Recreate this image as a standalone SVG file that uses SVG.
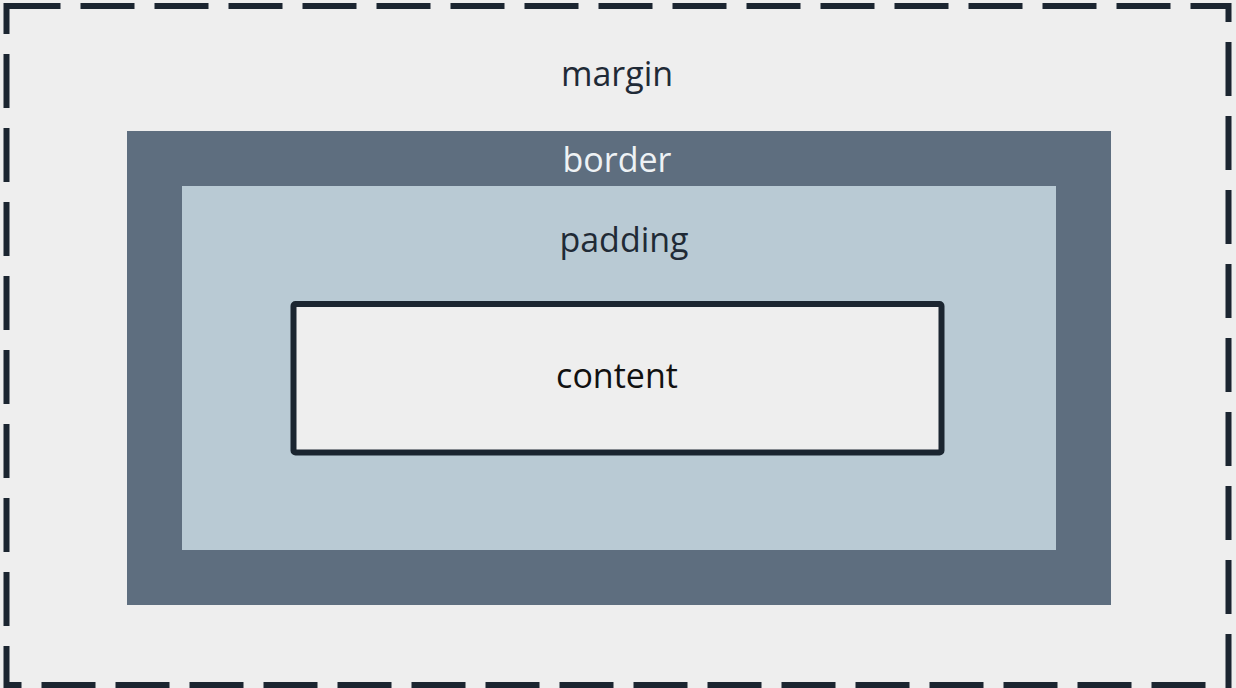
<svg xmlns="http://www.w3.org/2000/svg" width="1236" height="688" viewBox="0 0 1236 688">
  <style>
    .lbl { font-family: "Open Sans", "Noto Sans", sans-serif; font-size: 34px; text-anchor: middle; }
    .dark { fill: #1f2a36; }
    .light { fill: #eef2f5; }
  </style>
  <rect x="0" y="0" width="1236" height="688" fill="#eeeeee"/>
  <g id="margin">
    <rect x="6.5" y="6" width="1222" height="679" fill="#eeeeee" stroke="#1b2530" stroke-width="6" stroke-dasharray="54 20"/>
    <text class="lbl dark" x="617" y="86">margin</text>
  </g>
  <g id="border">
    <rect x="127" y="131" width="984" height="474" fill="#5e6e7f"/>
    <text class="lbl light" x="617" y="172">border</text>
  </g>
  <g id="padding">
    <rect x="182" y="186" width="874" height="364" fill="#b9cad4"/>
    <text class="lbl dark" x="624" y="252">padding</text>
  </g>
  <g id="content">
    <rect x="293.5" y="304" width="648" height="148.5" rx="2" fill="#eeeeee" stroke="#1b2530" stroke-width="6"/>
    <text class="lbl" fill="#111111" x="617" y="388">content</text>
  </g>
  <g id="connectors"/>
</svg>
